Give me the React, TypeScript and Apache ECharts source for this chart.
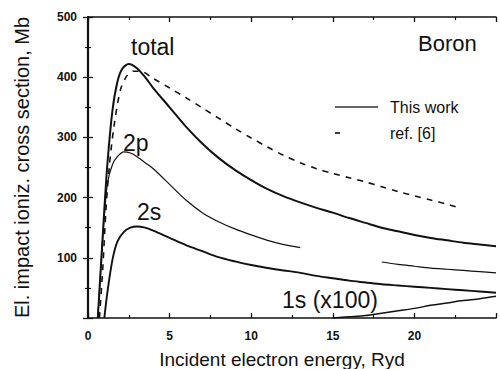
import React, { useEffect, useRef } from "react";
import * as echarts from "echarts";

const totalX = [0.6, 0.8, 1.0, 1.2, 1.5, 1.8, 2.1, 2.5, 3.0, 3.5, 4, 5, 6, 7, 8, 9, 10, 11, 12, 13, 14, 15, 16, 17, 18, 19, 20, 21, 22, 23, 24, 25];
const totalY = [0, 90, 180, 260, 345, 392, 414, 422, 415, 400, 382, 350, 318, 290, 266, 246, 229, 214, 202, 192, 183, 175, 166, 158, 150, 144, 138, 133, 129, 125, 122, 119];

const refX = [0.7, 0.9, 1.1, 1.3, 1.6, 2.0, 2.4, 2.8, 3.2, 4, 5, 6, 7, 8, 9, 10, 11, 12, 13, 14, 15, 16, 17, 18, 19, 20, 21, 22, 22.6];
const refY = [0, 80, 180, 250, 320, 380, 403, 410, 410, 398, 382, 366, 349, 332, 315, 299, 284, 270, 258, 248, 240, 233, 226, 218, 210, 203, 196, 189, 184];

const p2X = [0.6, 0.8, 1.0, 1.2, 1.5, 1.8, 2.2, 2.6, 3, 3.5, 4, 5, 6, 7, 8, 9, 10, 11, 12, 13, 15, 18, 19, 20, 21, 22, 23, 24, 25];
const p2Y: (number | null)[] = [0, 90, 170, 225, 255, 268, 276, 274, 268, 258, 248, 222, 196, 175, 160, 148, 138, 129, 122, 117, null, 93, 89, 86, 83, 81, 79, 77, 75];

const s2X = [1.0, 1.2, 1.5, 1.8, 2.2, 2.6, 3.0, 3.5, 4, 5, 6, 7, 8, 9, 10, 11, 12, 13, 14, 15, 16, 17, 18, 19, 20, 21, 22, 23, 24, 25];
const s2Y = [0, 45, 97, 127, 143, 150, 152, 150, 145, 133, 121, 111, 101, 94, 88, 83, 79, 75, 70, 66, 62, 59, 56, 54, 52, 50, 48, 46, 44, 42];

const s1X = [15, 16, 17, 18, 19, 20, 21, 22, 23, 24, 25];
const s1Y = [0, 2, 4, 8, 12, 16, 21, 25, 29, 32, 36];

const xTicks = [0, 5, 10, 15, 20];
const yTicks = [100, 200, 300, 400, 500];

const zip = (xs: number[], ys: (number | null)[]) => xs.map((x, i) => [x, ys[i]]);

const FONT = "Liberation Sans, Arial, sans-serif";
const INK = "#111";

const label = (text: string, x: number, y: number, size: number, weight = "normal") => ({
  type: "text",
  style: { text, x, y, verticalAlign: "middle", fontFamily: FONT, fontSize: size, fontWeight: weight, fill: INK },
});

export default function App() {
  const ref = useRef<HTMLDivElement>(null);
  useEffect(() => {
    if (!ref.current) return;
    const chart = echarts.init(ref.current, null, { renderer: "svg" });
    const axisCommon = {
      type: "value" as const,
      axisLine: { show: true, onZero: false, lineStyle: { color: INK, width: 1.6 } },
      axisTick: { show: true, inside: true, length: 5, lineStyle: { color: INK, width: 1.3 } },
      minorTick: { show: true, splitNumber: 2, length: 3, lineStyle: { color: INK, width: 1.2 } },
      splitLine: { show: false },
    };
    chart.setOption({
      animation: false,
      backgroundColor: "#fff",
      grid: { left: 88, right: 4, top: 17, bottom: 51, outerBoundsMode: "none", containLabel: false },
      xAxis: [
        {
          ...axisCommon,
          min: 0,
          max: 25,
          interval: 5,
          position: "bottom",
          axisLabel: {
            margin: 12,
            fontFamily: FONT,
            fontWeight: "bold",
            fontSize: 12,
            color: INK,
            formatter: (v: number) => (xTicks.includes(v) ? String(v) : ""),
          },
          name: "Incident electron energy, Ryd",
          nameLocation: "middle",
          nameGap: 32,
          nameTextStyle: { fontFamily: FONT, fontSize: 19, color: INK, padding: [0, 20, 0, 0] },
        },
        {
          ...axisCommon,
          min: 0,
          max: 25,
          interval: 5,
          position: "top",
          axisLabel: { show: false },
        },
      ],
      yAxis: [
        {
          ...axisCommon,
          min: 0,
          max: 500,
          interval: 100,
          position: "left",
          axisLabel: {
            margin: 11,
            fontFamily: FONT,
            fontWeight: "bold",
            fontSize: 12,
            color: INK,
            formatter: (v: number) => (yTicks.includes(v) ? String(v) : ""),
          },
          name: "El. impact ioniz. cross section, Mb",
          nameLocation: "middle",
          nameGap: 56,
          nameTextStyle: { fontFamily: FONT, fontSize: 20, color: INK },
        },
        {
          ...axisCommon,
          min: 0,
          max: 500,
          interval: 100,
          position: "right",
          axisLine: { show: true, lineStyle: { color: INK, width: 2.2 } },
          axisLabel: { show: false },
        },
      ],
      series: [
        {
          name: "total",
          type: "line",
          data: zip(totalX, totalY),
          smooth: 0.3,
          showSymbol: false,
          lineStyle: { color: INK, width: 2 },
        },
        {
          name: "ref",
          type: "line",
          data: zip(refX, refY),
          smooth: 0.3,
          showSymbol: false,
          lineStyle: { color: INK, width: 1.6, type: [6, 6] },
        },
        {
          name: "2p",
          type: "line",
          data: zip(p2X, p2Y),
          smooth: 0.3,
          connectNulls: false,
          showSymbol: false,
          lineStyle: { color: INK, width: 1.2 },
        },
        {
          name: "2s",
          type: "line",
          data: zip(s2X, s2Y),
          smooth: 0.3,
          showSymbol: false,
          lineStyle: { color: INK, width: 1.9 },
        },
        {
          name: "1s",
          type: "line",
          data: zip(s1X, s1Y),
          smooth: 0.3,
          showSymbol: false,
          lineStyle: { color: INK, width: 1.5 },
        },
      ],
      graphic: [
        label("Boron", 418, 43, 22),
        label("total", 131, 47, 23),
        label("2p", 123, 143, 23),
        label("2s", 137, 212, 23),
        label("1s (x100)", 282, 300, 23),
        { type: "line", shape: { x1: 335, y1: 107, x2: 378, y2: 107 }, style: { stroke: "#333", lineWidth: 1.5 } },
        label("This work", 390, 107, 16),
        { type: "line", shape: { x1: 335, y1: 133, x2: 340, y2: 133 }, style: { stroke: INK, lineWidth: 1.6 } },
        label("ref. [6]", 390, 133, 16),
      ],
    });
    return () => chart.dispose();
  }, []);
  return (
    <div
      ref={ref}
      style={{ position: "absolute", left: 0, top: 0, width: 500, height: 369 }}
    />
  );
}
